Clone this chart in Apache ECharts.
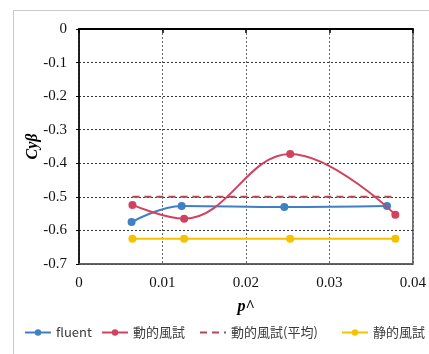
<!DOCTYPE html>
<html>
<head>
<meta charset="utf-8">
<script src="https://cdn.jsdelivr.net/npm/echarts@6/dist/echarts.min.js"></script>
<style>
  html, body { margin: 0; padding: 0; background: #fff; }
  #chart { width: 429px; height: 354px; }
</style>
</head>
<body>
<div id="chart"></div>
<script>
// Side-force derivative Cyβ against non-dimensional roll rate p^
const seriesNames = ['fluent', '動的風試', '動的風試(平均)', '静的風試'];

const pFluent = [0.0063, 0.0123, 0.0246, 0.0369];
const cyFluent = [-0.575, -0.527, -0.530, -0.527];

const pTunnel = [0.0064, 0.0126, 0.0253, 0.0379];
const cyDynamic = [-0.524, -0.565, -0.372, -0.553];
const cyDynamicMean = [-0.500, -0.500];
const pMean = [0.0064, 0.0379];
const cyStatic = [-0.625, -0.625, -0.625, -0.625];

const xTicks = [0, 0.01, 0.02, 0.03, 0.04];
const yTicks = [0, -0.1, -0.2, -0.3, -0.4, -0.5, -0.6, -0.7];

const colors = {
  fluent: '#3f7fc4',
  dynamic: '#d0435e',
  mean: '#b24a55',
  stat: '#f6c200'
};

const pairs = (xs, ys) => xs.map((x, i) => [x, ys[i]]);
const serif = '"Liberation Serif", "DejaVu Serif", serif';

// one legend entry per component so each key sits at its own left offset
const legendLefts = [24, 101, 199, 341];
const legends = seriesNames.map((name, i) => ({
  bottom: 15,
  left: legendLefts[i],
  padding: 0,
  itemWidth: 26,
  itemHeight: 8,
  textStyle: { fontFamily: '"Noto Sans CJK JP", "Noto Sans", sans-serif', fontSize: 13, color: '#3a3a3a' },
  data: [i === 2 ? { name, itemStyle: { opacity: 0 } } : name]
}));

const chart = echarts.init(document.getElementById('chart'), null, { renderer: 'canvas' });

chart.setOption({
  animation: false,
  backgroundColor: '#fff',
  graphic: [{
    type: 'rect',
    shape: { x: 13.5, y: 10.5, width: 440, height: 380 },
    style: { fill: 'none', stroke: '#c9c9c9', lineWidth: 1 },
    z: -10
  }],
  grid: {
    left: 79, top: 29, right: 16, bottom: 90,
    show: true, borderColor: '#5a5a5a', borderWidth: 1.5
  },
  legend: legends,
  xAxis: [{
    type: 'value',
    min: xTicks[0], max: xTicks[xTicks.length - 1], interval: 0.01,
    position: 'bottom',
    name: 'p^',
    nameLocation: 'middle',
    nameGap: 35,
    nameMoveOverlap: false,
    nameTextStyle: { fontFamily: serif, fontSize: 16, fontWeight: 'bold', fontStyle: 'italic', color: '#000' },
    axisLine: { show: true, onZero: false, lineStyle: { color: '#5a5a5a', width: 1.5 } },
    axisTick: { show: false },
    axisLabel: {
      margin: 12, fontFamily: serif, fontSize: 15, color: '#111',
      formatter: v => String(parseFloat(v.toFixed(3)))
    },
    splitLine: { show: true, lineStyle: { color: '#666', type: [2, 2], width: 1 } }
  }, {
    type: 'value',
    min: xTicks[0], max: xTicks[xTicks.length - 1], interval: 0.01,
    position: 'top',
    axisLine: { show: true, onZero: false, lineStyle: { color: '#000', width: 2 } },
    axisTick: { show: true, inside: true, length: 4, lineStyle: { color: '#000', width: 1.5 } },
    axisLabel: { show: false },
    splitLine: { show: false }
  }],
  yAxis: {
    type: 'value',
    min: yTicks[yTicks.length - 1], max: yTicks[0], interval: 0.1,
    name: 'Cyβ',
    nameLocation: 'middle',
    nameGap: 38,
    nameMoveOverlap: false,
    nameTextStyle: { fontFamily: serif, fontSize: 16, fontWeight: 'bold', fontStyle: 'italic', color: '#000' },
    axisLine: { show: true, onZero: false, lineStyle: { color: '#000', width: 1.5 } },
    axisTick: { show: true, length: 3, lineStyle: { color: '#000' } },
    axisLabel: {
      margin: 12, fontFamily: serif, fontSize: 15, color: '#111',
      formatter: v => String(parseFloat(v.toFixed(2)))
    },
    splitLine: { show: true, lineStyle: { color: '#333', type: [2, 2], width: 1 } }
  },
  series: [{
    name: seriesNames[0],
    type: 'line',
    data: pairs(pFluent, cyFluent),
    smooth: 0.4,
    symbol: 'circle',
    symbolSize: 8,
    color: colors.fluent,
    lineStyle: { width: 2 },
    z: 4
  }, {
    name: seriesNames[1],
    type: 'line',
    data: pairs(pTunnel, cyDynamic),
    smooth: 0.4,
    symbol: 'circle',
    symbolSize: 8,
    color: colors.dynamic,
    lineStyle: { width: 2 },
    z: 5
  }, {
    name: seriesNames[2],
    type: 'line',
    data: pairs(pMean, cyDynamicMean),
    symbol: 'none',
    color: colors.mean,
    lineStyle: { width: 2, type: [7, 5] },
    z: 3
  }, {
    name: seriesNames[3],
    type: 'line',
    data: pairs(pTunnel, cyStatic),
    symbol: 'circle',
    symbolSize: 8,
    color: colors.stat,
    lineStyle: { width: 2 },
    z: 4
  }]
});
</script>
</body>
</html>
